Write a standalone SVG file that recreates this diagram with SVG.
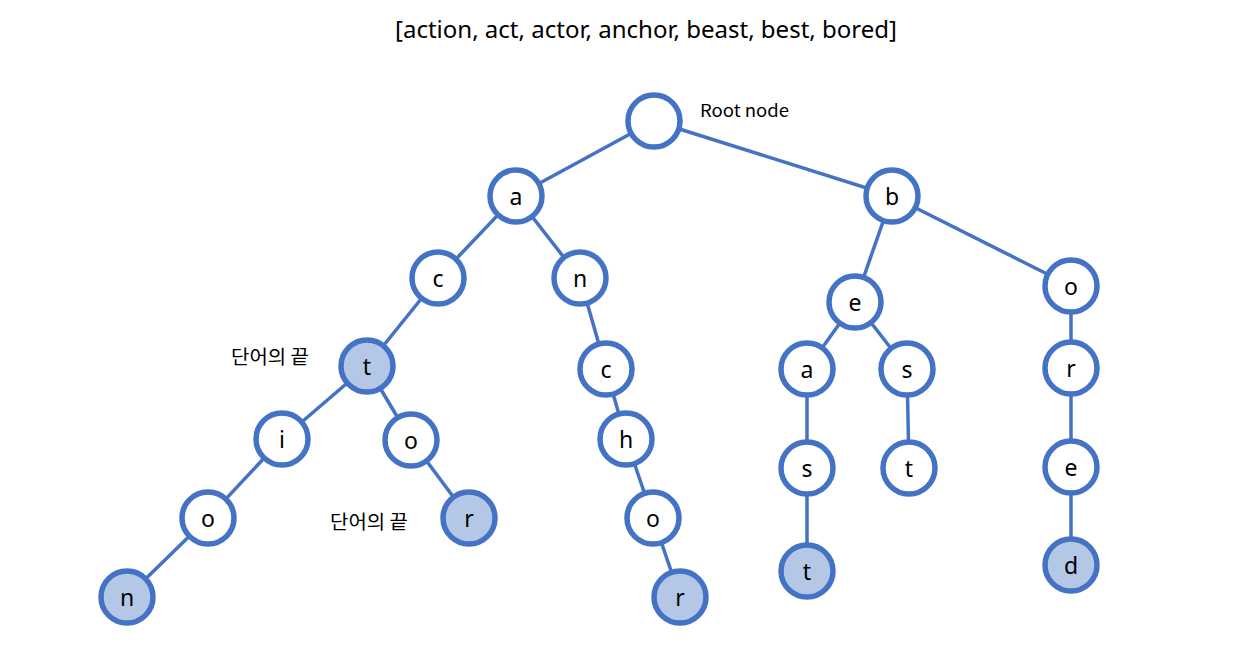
<svg xmlns="http://www.w3.org/2000/svg" width="1248" height="645" viewBox="0 0 1248 645">
<style>
.edge{stroke:#4472C4;stroke-width:3.5;fill:none}
.n circle{stroke:#4472C4;stroke-width:5.5;fill:#FFFFFF}
.n.end circle{fill:#B4C7E7}
.n text{font-family:"Noto Sans","Noto Sans CJK KR",sans-serif;font-size:23px;fill:#000;text-anchor:middle;dominant-baseline:central}
.lbl{font-family:"Noto Sans CJK KR","Noto Sans",sans-serif;font-size:17px;fill:#000}
.kr{font-family:"Noto Sans CJK KR","Noto Sans",sans-serif;font-size:19px;fill:#000}
.title{font-family:"Noto Sans","Noto Sans CJK KR",sans-serif;font-size:24px;fill:#000}
</style>
<rect width="1248" height="645" fill="#FFFFFF"/>
<text class="title" x="395" y="38" textLength="502" lengthAdjust="spacingAndGlyphs">[action, act, actor, anchor, beast, best, bored]</text>
<text class="lbl" x="700" y="117" textLength="89" lengthAdjust="spacingAndGlyphs">Root node</text>
<text class="kr" x="231" y="364" textLength="78" lengthAdjust="spacingAndGlyphs">단어의 끝</text>
<text class="kr" x="330" y="529" textLength="78" lengthAdjust="spacingAndGlyphs">단어의 끝</text>
<g id="connectors">
<line class="edge" x1="654" y1="121" x2="516" y2="196"/>
<line class="edge" x1="654" y1="121" x2="892" y2="196"/>
<line class="edge" x1="516" y1="196" x2="438" y2="278"/>
<line class="edge" x1="516" y1="196" x2="580" y2="278"/>
<line class="edge" x1="438" y1="278" x2="367" y2="366"/>
<line class="edge" x1="367" y1="366" x2="282" y2="439"/>
<line class="edge" x1="367" y1="366" x2="411" y2="440"/>
<line class="edge" x1="282" y1="439" x2="208" y2="518"/>
<line class="edge" x1="208" y1="518" x2="127" y2="597"/>
<line class="edge" x1="411" y1="440" x2="469" y2="518"/>
<line class="edge" x1="580" y1="278" x2="606" y2="369"/>
<line class="edge" x1="606" y1="369" x2="626" y2="439"/>
<line class="edge" x1="626" y1="439" x2="653" y2="518"/>
<line class="edge" x1="653" y1="518" x2="680" y2="597"/>
<line class="edge" x1="892" y1="196" x2="855" y2="302"/>
<line class="edge" x1="892" y1="196" x2="1071" y2="286"/>
<line class="edge" x1="855" y1="302" x2="807" y2="369"/>
<line class="edge" x1="855" y1="302" x2="907" y2="369"/>
<line class="edge" x1="807" y1="369" x2="807" y2="468"/>
<line class="edge" x1="807" y1="468" x2="807" y2="571"/>
<line class="edge" x1="907" y1="369" x2="909" y2="468"/>
<line class="edge" x1="1071" y1="286" x2="1071" y2="368"/>
<line class="edge" x1="1071" y1="368" x2="1071" y2="467"/>
<line class="edge" x1="1071" y1="467" x2="1071" y2="565"/>
</g>
<g id="root" class="n"><circle cx="654" cy="121" r="26"/></g>
<g id="a" class="n"><circle cx="516" cy="196" r="26"/><text x="516" y="196">a</text></g>
<g id="b" class="n"><circle cx="892" cy="196" r="26"/><text x="892" y="196">b</text></g>
<g id="ac" class="n"><circle cx="438" cy="278" r="26"/><text x="438" y="278">c</text></g>
<g id="an" class="n"><circle cx="580" cy="278" r="26"/><text x="580" y="278">n</text></g>
<g id="act" class="n end"><circle cx="367" cy="366" r="26"/><text x="367" y="366">t</text></g>
<g id="acti" class="n"><circle cx="282" cy="439" r="26"/><text x="282" y="439">i</text></g>
<g id="actio" class="n"><circle cx="208" cy="518" r="26"/><text x="208" y="518">o</text></g>
<g id="action" class="n end"><circle cx="127" cy="597" r="26"/><text x="127" y="597">n</text></g>
<g id="acto" class="n"><circle cx="411" cy="440" r="26"/><text x="411" y="440">o</text></g>
<g id="actor" class="n end"><circle cx="469" cy="518" r="26"/><text x="469" y="518">r</text></g>
<g id="anc" class="n"><circle cx="606" cy="369" r="26"/><text x="606" y="369">c</text></g>
<g id="anch" class="n"><circle cx="626" cy="439" r="26"/><text x="626" y="439">h</text></g>
<g id="ancho" class="n"><circle cx="653" cy="518" r="26"/><text x="653" y="518">o</text></g>
<g id="anchor" class="n end"><circle cx="680" cy="597" r="26"/><text x="680" y="597">r</text></g>
<g id="be" class="n"><circle cx="855" cy="302" r="26"/><text x="855" y="302">e</text></g>
<g id="bea" class="n"><circle cx="807" cy="369" r="26"/><text x="807" y="369">a</text></g>
<g id="beas" class="n"><circle cx="807" cy="468" r="26"/><text x="807" y="468">s</text></g>
<g id="beast" class="n end"><circle cx="807" cy="571" r="26"/><text x="807" y="571">t</text></g>
<g id="bes" class="n"><circle cx="907" cy="369" r="26"/><text x="907" y="369">s</text></g>
<g id="best" class="n"><circle cx="909" cy="468" r="26"/><text x="909" y="468">t</text></g>
<g id="bo" class="n"><circle cx="1071" cy="286" r="26"/><text x="1071" y="286">o</text></g>
<g id="bor" class="n"><circle cx="1071" cy="368" r="26"/><text x="1071" y="368">r</text></g>
<g id="bore" class="n"><circle cx="1071" cy="467" r="26"/><text x="1071" y="467">e</text></g>
<g id="bored" class="n end"><circle cx="1071" cy="565" r="26"/><text x="1071" y="565">d</text></g>
</svg>
